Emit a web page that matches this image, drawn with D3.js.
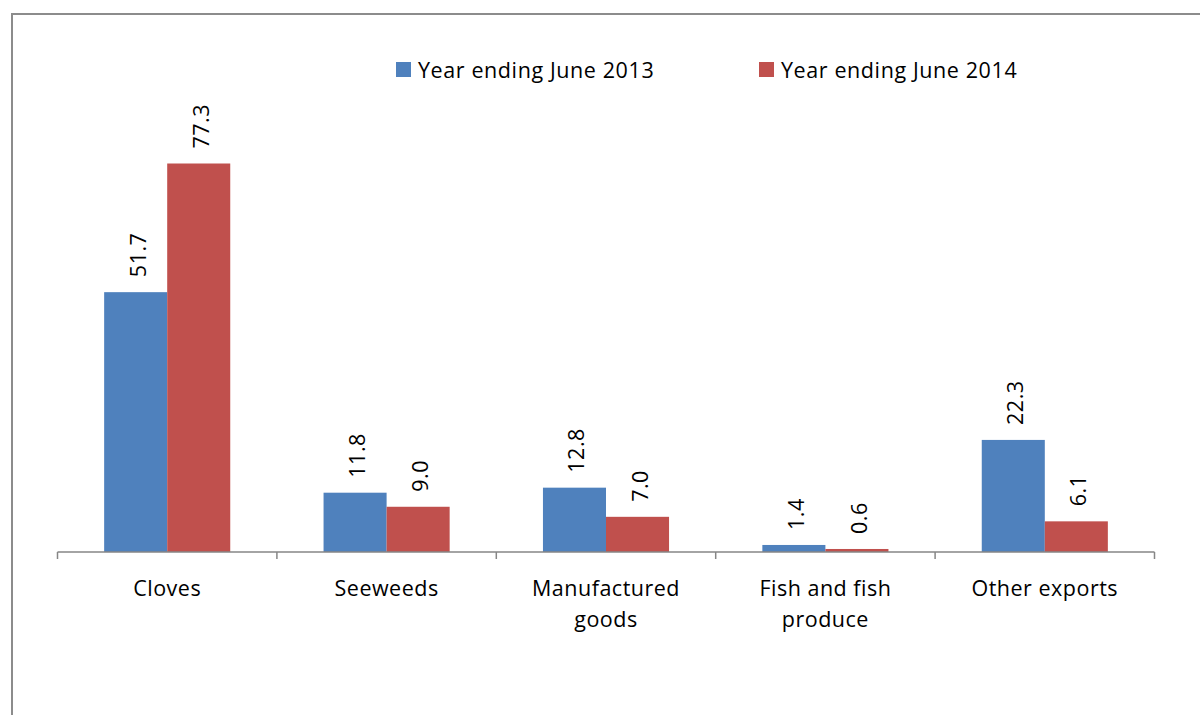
<!DOCTYPE html>
<html>
<head>
<meta charset="utf-8">
<script src="https://cdn.jsdelivr.net/npm/d3@7"></script>
<style>
  html, body { margin: 0; padding: 0; background: #fff; }
  svg { display: block; }
  text { font-family: "Open Sans", "Liberation Sans", sans-serif; fill: #000; }
</style>
</head>
<body>
<svg id="chart" width="1200" height="715"></svg>
<script>
// Export values by product (two reporting years)
const categories = ["Cloves", "Seeweeds", "Manufactured goods", "Fish and fish produce", "Other exports"];
const categoryLines = [["Cloves"], ["Seeweeds"], ["Manufactured", "goods"], ["Fish and fish", "produce"], ["Other exports"]];
const seriesNames = ["Year ending June 2013", "Year ending June 2014"];
const values2013 = [51.7, 11.8, 12.8, 1.4, 22.3];
const values2014 = [77.3, 9.0, 7.0, 0.6, 6.1];
const colors = ["#4F81BD", "#C0504D"];

const svg = d3.select("#chart");

// outer frame (extends past the right and bottom edges)
svg.append("rect")
  .attr("x", 12).attr("y", 14)
  .attr("width", 1300).attr("height", 800)
  .attr("fill", "none").attr("stroke", "#8c8c8c").attr("stroke-width", 2);

const plot = { left: 57.5, right: 1154.5, top: 163.5, bottom: 552 };

const x0 = d3.scaleBand().domain(categories).range([plot.left, plot.right]).paddingInner(0).paddingOuter(0);
const x1 = d3.scaleBand().domain(seriesNames).range([0, x0.bandwidth()]).paddingInner(0).paddingOuter(0.74);
const y = d3.scaleLinear().domain([0, 77.3]).range([plot.bottom, plot.top]);

const series = [values2013, values2014];

const groups = svg.append("g").selectAll("g")
  .data(categories)
  .join("g")
  .attr("transform", d => `translate(${x0(d)},0)`);

groups.each(function(cat, i) {
  const g = d3.select(this);
  seriesNames.forEach((s, j) => {
    const v = series[j][i];
    g.append("rect")
      .attr("x", x1(s))
      .attr("y", y(v))
      .attr("width", x1.bandwidth())
      .attr("height", plot.bottom - y(v))
      .attr("fill", colors[j]);
    const cx = x1(s) + x1.bandwidth() / 2;
    g.append("text")
      .attr("transform", `translate(${cx + 10},${y(v) - 15}) rotate(-90)`)
      .attr("text-anchor", "start")
      .attr("font-size", 21.5)
      .attr("letter-spacing", 0.5)
      .text(v.toFixed(1));
  });
});

// category axis with boundary ticks
const axis = svg.append("g");
axis.append("line")
  .attr("x1", plot.left).attr("x2", plot.right)
  .attr("y1", plot.bottom).attr("y2", plot.bottom)
  .attr("stroke", "#868686").attr("stroke-width", 1.5);
const boundaries = categories.map(c => x0(c)).concat([x0(categories[categories.length - 1]) + x0.bandwidth()]);
axis.selectAll("line.tick")
  .data(boundaries)
  .join("line")
  .attr("class", "tick")
  .attr("x1", d => d).attr("x2", d => d)
  .attr("y1", plot.bottom).attr("y2", plot.bottom + 7)
  .attr("stroke", "#868686").attr("stroke-width", 1.5);

axis.selectAll("text.cat")
  .data(categories)
  .join("text")
  .attr("class", "cat")
  .attr("x", d => x0(d) + x0.bandwidth() / 2)
  .attr("y", 596)
  .attr("text-anchor", "middle")
  .attr("font-size", 21.5)
  .attr("letter-spacing", 0.5)
  .each(function(d, i) {
    const t = d3.select(this);
    categoryLines[i].forEach((line, k) => {
      t.append("tspan")
        .attr("x", x0(d) + x0.bandwidth() / 2)
        .attr("dy", k === 0 ? 0 : 31)
        .text(line);
    });
  });

// legend
const legendX = [396, 759];
const legend = svg.append("g");
seriesNames.forEach((s, j) => {
  legend.append("rect")
    .attr("x", legendX[j]).attr("y", 62)
    .attr("width", 15).attr("height", 15)
    .attr("fill", colors[j]);
  legend.append("text")
    .attr("x", legendX[j] + 22).attr("y", 78)
    .attr("font-size", 21.5)
    .attr("letter-spacing", 0.6)
    .text(s);
});
</script>
</body>
</html>
